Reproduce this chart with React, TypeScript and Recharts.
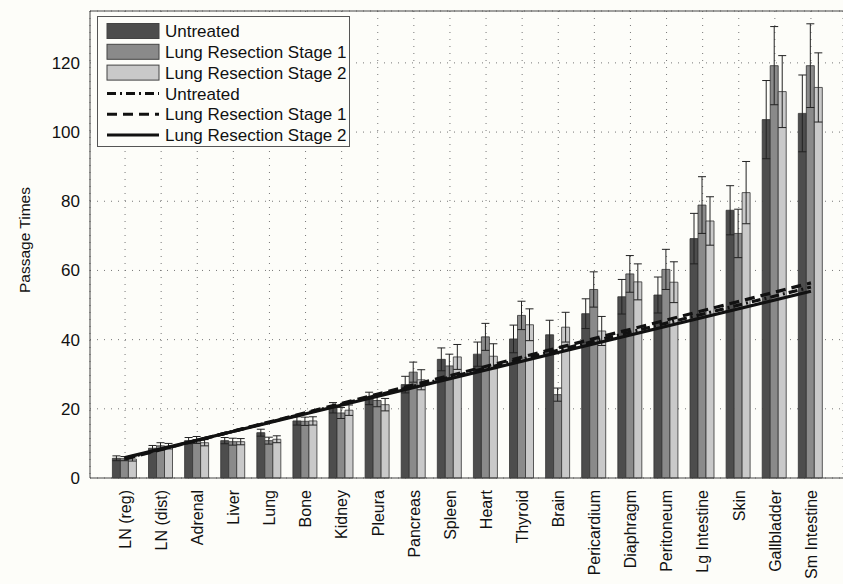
import React from 'react';
import {
  ComposedChart,
  Bar,
  Line,
  XAxis,
  YAxis,
  CartesianGrid,
  ErrorBar,
  ReferenceLine,
  Legend,
  Label,
} from 'recharts';

const organs = [
  'LN (reg)', 'LN (dist)', 'Adrenal', 'Liver', 'Lung', 'Bone', 'Kidney', 'Pleura', 'Pancreas', 'Spleen',
  'Heart', 'Thyroid', 'Brain', 'Pericardium', 'Diaphragm', 'Peritoneum', 'Lg Intestine', 'Skin', 'Gallbladder', 'Sm Intestine',
];

// mean passage times per group
const untreated = [5.7, 8.6, 10.8, 10.8, 13.1, 16.5, 20.3, 23.0, 27.0, 34.3, 35.8, 40.2, 41.4, 47.5, 52.4, 52.9, 69.2, 77.4, 103.6, 105.4];
const stage1 = [5.6, 9.3, 11.0, 10.5, 10.8, 16.4, 18.8, 22.4, 30.6, 32.4, 40.8, 47.0, 24.1, 54.5, 59.0, 60.3, 78.9, 70.7, 119.2, 119.2];
const stage2 = [5.5, 9.2, 10.2, 10.5, 11.2, 16.5, 19.6, 21.2, 28.4, 35.0, 35.2, 44.3, 43.6, 42.5, 56.7, 56.6, 74.3, 82.5, 111.7, 112.9];

// error bar half-lengths
const untreatedErr = [0.7, 0.8, 0.9, 0.9, 1.0, 1.2, 1.5, 1.8, 2.4, 3.3, 3.5, 4.0, 4.2, 4.3, 5.0, 5.2, 7.3, 7.1, 11.3, 11.1];
const stage1Err = [0.6, 0.9, 1.0, 1.0, 1.0, 1.2, 1.6, 1.8, 2.9, 3.4, 3.9, 4.1, 1.9, 5.1, 5.3, 5.8, 8.2, 7.0, 11.3, 12.1];
const stage2Err = [0.6, 0.8, 0.9, 0.9, 1.0, 1.2, 1.5, 1.8, 2.9, 3.6, 3.6, 4.6, 4.3, 4.2, 5.2, 5.9, 7.0, 9.0, 10.4, 10.0];

const untreatedFitEnds = [5.7, 55.2];
const stage1FitEnds = [5.5, 56.4];
const stage2FitEnds = [5.9, 54.0];

const yTicks = [0, 20, 40, 60, 80, 100, 120];

const FONT = '"Liberation Sans", Arial, Helvetica, sans-serif';
const BG = '#fdfdf9';

const last = organs.length - 1;
const endsOnly = (ends: number[], i: number) => (i === 0 ? ends[0] : i === last ? ends[1] : null);

const rows = organs.map((organ, i) => ({
  organ,
  u: untreated[i],
  s1: stage1[i],
  s2: stage2[i],
  uErr: untreatedErr[i],
  s1Err: stage1Err[i],
  s2Err: stage2Err[i],
  uFit: endsOnly(untreatedFitEnds, i),
  s1Fit: endsOnly(stage1FitEnds, i),
  s2Fit: endsOnly(stage2FitEnds, i),
}));

const legendItems = [
  { label: 'Untreated', kind: 'bar', fill: '#4d4d4d' },
  { label: 'Lung Resection Stage 1', kind: 'bar', fill: '#8a8a8a' },
  { label: 'Lung Resection Stage 2', kind: 'bar', fill: '#c9c9c9' },
  { label: 'Untreated', kind: 'line', dash: '9 4 2 4' },
  { label: 'Lung Resection Stage 1', kind: 'line', dash: '10 6' },
  { label: 'Lung Resection Stage 2', kind: 'line', dash: undefined },
];

function LegendBox() {
  return (
    <div style={{ width: 253, height: 131, border: '1px solid #555', background: BG, boxSizing: 'border-box' }}>
      <svg width={251} height={129} style={{ display: 'block' }}>
        {legendItems.map((it, i) => {
          const cy = 14 + i * 20.8;
          return (
            <g key={i}>
              {it.kind === 'bar' ? (
                <rect x={9} y={cy - 7.5} width={52} height={15} fill={it.fill} stroke="#444" strokeWidth={1} />
              ) : (
                <line x1={9} x2={61} y1={cy} y2={cy} stroke="#111" strokeWidth={3} strokeDasharray={it.dash} />
              )}
              <text x={67} y={cy} dy="0.36em" fontSize={17} fill="#111" fontFamily={FONT}>
                {it.label}
              </text>
            </g>
          );
        })}
      </svg>
    </div>
  );
}

function OrganTick(props: any) {
  const { x, y, payload } = props;
  return (
    <text
      x={x}
      y={y}
      transform={`rotate(-90, ${x}, ${y})`}
      textAnchor="end"
      dy="0.36em"
      fontSize={16}
      fill="#111"
      fontFamily={FONT}
    >
      {payload.value}
    </text>
  );
}

const axisTitle = () => (
  <text
    x={24}
    y={240}
    transform="rotate(-90, 24, 240)"
    textAnchor="middle"
    dy="0.36em"
    style={{ fontSize: 15.5, fill: '#111', fontFamily: FONT }}
  >
    Passage Times
  </text>
);

export default function App() {
  return (
    <div style={{ position: 'absolute', left: 0, top: 0, width: 843, height: 584, background: BG, overflow: 'hidden' }}>
      <ComposedChart
        width={843}
        height={584}
        data={rows}
        margin={{ top: 11, right: 0, bottom: 6, left: 0 }}
        barCategoryGap="15%"
        barGap={0}
      >
        <CartesianGrid strokeDasharray="1 6" stroke="#777" />
        <XAxis
          dataKey="organ"
          interval={0}
          tick={<OrganTick />}
          tickLine={false}
          tickSize={6}
          tickMargin={6}
          height={100}
          padding={{ left: 17, right: 14 }}
          axisLine={{ stroke: '#444' }}
        />
        <YAxis
          type="number"
          domain={[0, 135]}
          ticks={yTicks}
          width={90}
          tickSize={8}
          tickMargin={2}
          tickLine={false}
          axisLine={{ stroke: '#444' }}
          tick={{ fontSize: 17, fill: '#111', fontFamily: FONT }}
        >
          <Label content={axisTitle} />
        </YAxis>
        <ReferenceLine y={135} stroke="#444" />
        <Bar dataKey="u" fill="#4d4d4d" stroke="#333" strokeWidth={0.8} isAnimationActive={false}>
          <ErrorBar dataKey="uErr" width={4} stroke="#222" strokeWidth={1} direction="y" isAnimationActive={false} />
        </Bar>
        <Bar dataKey="s1" fill="#8a8a8a" stroke="#333" strokeWidth={0.8} isAnimationActive={false}>
          <ErrorBar dataKey="s1Err" width={4} stroke="#222" strokeWidth={1} direction="y" isAnimationActive={false} />
        </Bar>
        <Bar dataKey="s2" fill="#c9c9c9" stroke="#333" strokeWidth={0.8} isAnimationActive={false}>
          <ErrorBar dataKey="s2Err" width={4} stroke="#222" strokeWidth={1} direction="y" isAnimationActive={false} />
        </Bar>
        <Line dataKey="uFit" stroke="#111" strokeWidth={3.2} strokeDasharray="9 4 2 4" dot={false} connectNulls isAnimationActive={false} />
        <Line dataKey="s1Fit" stroke="#111" strokeWidth={3.2} strokeDasharray="10 6" dot={false} connectNulls isAnimationActive={false} />
        <Line dataKey="s2Fit" stroke="#111" strokeWidth={3.2} dot={false} connectNulls isAnimationActive={false} />
        <Legend
          layout="horizontal"
          verticalAlign="middle"
          align="center"
          content={<LegendBox />}
          wrapperStyle={{ left: 97, top: 16, width: 253, height: 131 }}
        />
      </ComposedChart>
    </div>
  );
}
